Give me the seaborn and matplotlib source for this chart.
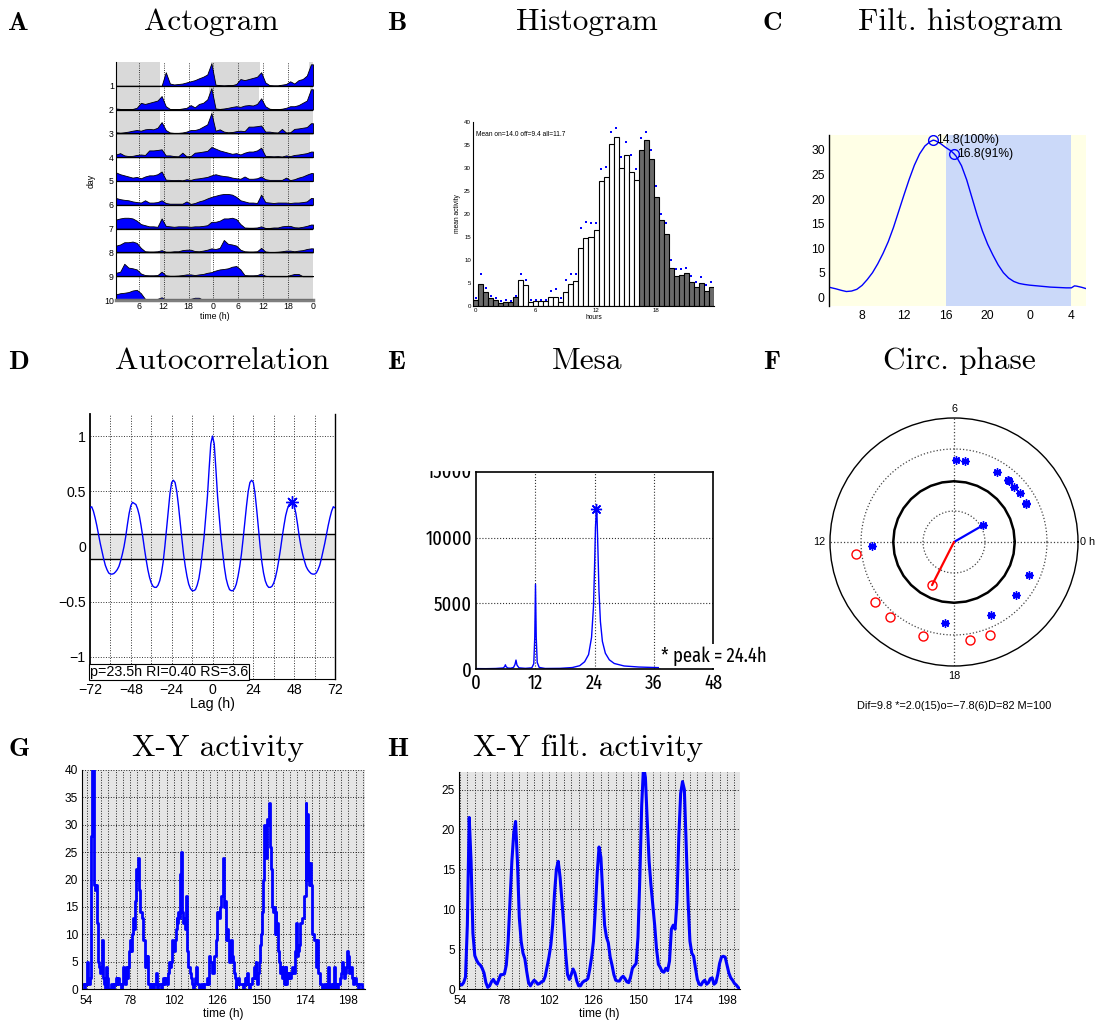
import os
import numpy as np
import matplotlib
matplotlib.use("Agg")
import matplotlib.pyplot as plt
import seaborn as sns
from matplotlib import font_manager
from matplotlib.font_manager import FontProperties
from matplotlib.ticker import MultipleLocator
from matplotlib.transforms import Bbox, TransformedBbox

# ------------------------------------------------------------------ A: actogram
# hourly activity (share of row height), one list per recording day
act_hourly = [
    [0, 0, 0, 0, 0, 0, 0, 0, 0, 0, 0, 0,
     0.60, 0.10, 0.06, 0.08, 0.10, 0.15, 0.20, 0.25, 0.33, 0.40, 0.50, 1.00],
    [0.05, 0.03, 0.02, 0.03, 0.03, 0.08, 0.30, 0.25, 0.30, 0.35, 0.40, 0.60,
     0.15, 0.03, 0.02, 0.02, 0.05, 0.08, 0.20, 0.10, 0.25, 0.30, 0.45, 0.95],
    [0.05, 0.03, 0.05, 0.08, 0.12, 0.15, 0.12, 0.18, 0.20, 0.18, 0.25, 0.50,
     0.15, 0.04, 0.02, 0.02, 0.04, 0.08, 0.15, 0.15, 0.20, 0.30, 0.40, 0.90],
    [0.12, 0.18, 0.08, 0.05, 0.06, 0.10, 0.12, 0.10, 0.30, 0.30, 0.32, 0.35,
     0.08, 0.08, 0.05, 0.04, 0.20, 0.04, 0.05, 0.20, 0.22, 0.25, 0.28, 0.45],
    [0.38, 0.30, 0.25, 0.20, 0.15, 0.18, 0.12, 0.20, 0.25, 0.25, 0.30, 0.42,
     0.06, 0.05, 0.04, 0.05, 0.03, 0.08, 0.05, 0.10, 0.12, 0.15, 0.18, 0.25],
    [0.30, 0.25, 0.22, 0.20, 0.15, 0.12, 0.10, 0.20, 0.10, 0.10, 0.12, 0.20,
     0.08, 0.05, 0.05, 0.05, 0.05, 0.15, 0.04, 0.08, 0.15, 0.20, 0.28, 0.35],
    [0.40, 0.45, 0.48, 0.48, 0.45, 0.35, 0.20, 0.15, 0.10, 0.10, 0.08, 0.45,
     0.12, 0.10, 0.08, 0.10, 0.10, 0.10, 0.08, 0.10, 0.10, 0.12, 0.15, 0.30],
    [0.30, 0.35, 0.45, 0.45, 0.48, 0.42, 0.20, 0.05, 0.04, 0.04, 0.05, 0.10,
     0.03, 0.03, 0.05, 0.05, 0.10, 0.12, 0.12, 0.06, 0.05, 0.08, 0.12, 0.18],
    [0.15, 0.20, 0.55, 0.38, 0.35, 0.30, 0.12, 0.05, 0.04, 0.04, 0.05, 0.20,
     0.04, 0.02, 0.02, 0.03, 0.05, 0.08, 0.08, 0.05, 0.08, 0.10, 0.15, 0.18],
    [0.25, 0.30, 0.32, 0.35, 0.42, 0.45, 0.30, 0.05, 0.04, 0.04, 0.05, 0.12,
     0.02, 0, 0, 0, 0, 0, 0.05, 0.10, 0.10, 0, 0, 0],
]
# dark phases (clock hours) for each day, day 11 has no recording
dark_periods = [
    [(0.0, 11.0), (23.3, 24.0)],
    [(0.0, 11.2), (23.0, 24.0)],
    [(0.0, 11.0), (23.3, 24.0)],
    [(0.0, 24.0)],
    [(11.2, 23.3)],
    [(11.2, 23.3)],
    [(11.2, 23.3)],
    [(11.2, 23.3)],
    [(11.2, 23.3)],
    [(11.2, 24.0)],
    [(0.0, 24.0)],
]

# ------------------------------------------------------------------ B: histogram
hist_bin_hours = [i * 0.5 for i in range(48)]
hist_mean = [1.3, 4.85, 3.0, 1.7, 1.25, 0.7, 0.95, 0.85, 1.9, 5.6, 4.5, 0.9,
             1.0, 1.0, 1.0, 2.0, 2.0, 0.9, 3.0, 4.8, 5.35, 12.5, 14.75, 15.0,
             16.5, 27.1, 28.0, 35.2, 36.8, 30.1, 32.9, 29.2, 27.3, 33.9, 36.1, 32.0,
             23.6, 18.7, 15.6, 8.2, 6.6, 6.7, 7.1, 5.3, 4.05, 4.9, 3.25, 4.1]
hist_upper = [1.8, 6.9, 3.9, 2.2, 1.8, 1.1, 1.4, 1.1, 2.1, 6.9, 5.6, 1.4,
              1.4, 1.4, 1.3, 3.3, 3.8, 1.8, 5.6, 6.9, 6.9, 17.0, 18.2, 18.0,
              18.0, 29.7, 30.2, 37.9, 38.7, 32.4, 35.7, 32.9, 29.7, 36.5, 37.9, 33.9,
              26.0, 20.0, 18.0, 10.0, 8.0, 8.0, 8.3, 6.5, 5.2, 6.3, 4.6, 5.2]
hist_phase = ["dark"] * 9 + ["light"] * 24 + ["dark"] * 15

# ------------------------------------------------------------------ C: filtered histogram
filt_hours = [4.84, 5.0, 5.5, 6.0, 6.5, 7.0, 7.5, 8.0, 8.5, 9.0,
              9.5, 10.0, 10.5, 11.0, 11.5, 12.0, 12.5, 13.0, 13.5, 14.0,
              14.5, 14.8, 15.0, 15.5, 16.0, 16.5, 16.8, 17.0, 17.5, 18.0,
              18.5, 19.0, 19.5, 20.0, 20.5, 21.0, 21.5, 22.0, 22.5, 23.0,
              23.5, 24.0, 24.5, 25.0, 25.5, 26.0, 26.5, 27.0, 27.5, 28.0,
              28.3, 28.5, 29.0, 29.4]
filt_values = [2.05, 1.95, 1.7, 1.4, 1.15, 1.25, 1.6, 2.4, 3.6, 5.0,
               6.8, 8.9, 11.3, 14.2, 17.5, 20.8, 24.0, 26.9, 29.2, 30.8,
               31.7, 32.0, 31.9, 31.3, 30.5, 29.8, 29.2, 28.7, 26.8, 23.9,
               20.3, 16.7, 13.5, 10.8, 8.6, 6.6, 5.0, 3.9, 3.2, 2.8,
               2.6, 2.45, 2.35, 2.25, 2.15, 2.05, 2.0, 1.95, 1.9, 1.9,
               2.3, 2.25, 2.0, 1.75]
filt_peak_hours = [14.8, 16.8]
dark_onset, dark_offset = 16.0, 28.0   # 28 h = 04:00 next day

# ------------------------------------------------------------------ D: autocorrelation
acf_lag_pos = list(range(73))
acf_pos = [1.00, 0.93, 0.70, 0.45, 0.26, 0.08, -0.06, -0.19, -0.29, -0.35,
           -0.39, -0.40, -0.40, -0.38, -0.34, -0.27, -0.18, -0.07, 0.07, 0.22,
           0.37, 0.50, 0.58, 0.60, 0.58, 0.48, 0.33, 0.16, 0.00, -0.14,
           -0.24, -0.31, -0.35, -0.37, -0.37, -0.36, -0.33, -0.28, -0.21, -0.12,
           -0.02, 0.09, 0.19, 0.28, 0.34, 0.38, 0.39, 0.40, 0.37, 0.30,
           0.20, 0.09, 0.00, -0.07, -0.13, -0.18, -0.21, -0.23, -0.245, -0.25,
           -0.25, -0.24, -0.21, -0.17, -0.11, -0.04, 0.03, 0.11, 0.19, 0.26,
           0.32, 0.36, 0.35]
acf_period, acf_ri, acf_rs = 23.5, 0.40, 3.6
acf_conf = 0.11

# ------------------------------------------------------------------ E: MESA spectrum
mesa_period = [0.0, 2.0, 4.0, 5.5, 5.8, 5.95, 6.1, 6.4, 7.0, 7.6,
               7.9, 8.1, 8.3, 8.7, 10.0, 11.3, 11.7, 11.9, 12.05, 12.2,
               12.4, 12.8, 14.0, 17.0, 19.5, 21.0, 22.0, 22.8, 23.4, 23.8,
               24.0, 24.2, 24.4, 24.5, 24.7, 24.9, 25.2, 25.6, 26.2, 27.0,
               28.0, 30.0, 33.0, 37.3]
mesa_power = [30, 25, 40, 80, 180, 320, 180, 80, 60, 120,
              350, 680, 300, 90, 50, 90, 400, 2400, 6450, 2400,
              500, 120, 40, 50, 110, 250, 550, 1100, 2400, 4800,
              7600, 10800, 12200, 11800, 9000, 6000, 3600, 2100, 1200, 700,
              420, 230, 150, 100]

# ------------------------------------------------------------------ F: circular phase
onset_phase_h = [5.9, 5.5, 3.9, 3.27, 3.2, 3.25, 2.84, 2.43, 1.92, 1.85,
                 22.4, 21.3, 19.8, 17.6, 12.2]
offset_phase_h = [12.47, 14.5, 15.3, 16.77, 18.6, 19.4]
onset_mean_h, onset_mean_len = 2.0, 0.27
offset_mean_h, offset_mean_len = -7.8, 0.39
onset_radius, offset_radius, sig_radius = 0.66, 0.80, 0.49

# ------------------------------------------------------------------ G: raw activity (30 min)
raw_start, raw_step = 52.0, 0.5
raw_counts = [
    1, 0, 1, 1, 2, 5, 1, 1, 2, 28, 41, 40, 19, 18, 19, 12, 12, 5, 4, 3, 4, 9, 2, 1,
    0, 4, 3, 2, 0, 0, 0, 1, 1, 0, 1, 1, 2, 1, 2, 2, 1, 1, 0, 1, 4, 3, 1, 4,
    3, 2, 4, 7, 9, 7, 10, 13, 11, 16, 22, 21, 20, 24, 18, 14, 14, 13, 9, 9, 4, 6, 5, 6,
    1, 1, 0, 1, 1, 0, 1, 1, 3, 3, 0, 1, 1, 1, 0, 1, 2, 1, 2, 2, 2, 1, 3, 5,
    4, 5, 9, 8, 7, 9, 11, 13, 12, 14, 13, 21, 25, 14, 12, 13, 11, 17, 12, 7, 4, 4, 3, 2,
    1, 0, 1, 2, 4, 3, 1, 1, 0, 0, 1, 1, 0, 1, 1, 1, 1, 2, 1, 6, 5, 5, 3, 3,
    6, 6, 9, 9, 14, 14, 13, 15, 17, 17, 24, 15, 16, 15, 9, 11, 9, 5, 5, 9, 6, 5, 3, 2,
    0, 1, 1, 2, 1, 1, 1, 1, 0, 1, 2, 1, 2, 3, 1, 0, 1, 1, 2, 2, 4, 2, 5, 3,
    1, 3, 5, 8, 10, 14, 20, 30, 26, 29, 24, 31, 30, 34, 26, 22, 15, 14, 15, 10, 14, 10, 12, 7,
    5, 3, 4, 2, 4, 1, 2, 4, 1, 3, 2, 3, 2, 3, 4, 3, 3, 7, 12, 12, 6, 7, 8, 12,
    12, 13, 13, 17, 17, 34, 20, 32, 23, 19, 23, 19, 10, 10, 9, 9, 5, 4, 9, 3, 3, 1, 1, 0,
    0, 1, 1, 1, 0, 1, 4, 0, 0, 1, 0, 1, 4, 0, 0, 1, 0, 1, 1, 2, 3, 5, 4, 2,
    3, 4, 4, 7, 6, 3, 4, 4, 2, 1, 2, 2, 1, 1, 1, 0, 1, 1, 1, 0, 0,
]

# ------------------------------------------------------------------ H: filtered activity (hourly)
filt_start = 53
filt_activity = [
    0.9, 0.6, 0.5, 0.8, 1.5, 8.0, 21.5, 16.0, 7.0, 4.2, 3.6, 3.2, 3.0, 2.6, 2.0, 0.8, 0.2,
    0.4, 0.9, 1.2, 0.8, 0.6, 1.2, 1.8, 1.8, 1.9, 3.0, 6.0, 11.0, 16.0, 19.5, 21.0, 16.0,
    9.0, 6.0, 4.5, 3.8, 2.2, 0.8, 0.4, 0.8, 1.1, 0.9, 0.6, 0.7, 0.9, 1.0, 1.6, 2.8, 4.0,
    5.5, 8.0, 12.0, 15.0, 16.0, 14.0, 11.0, 8.0, 4.5, 1.8, 1.2, 1.8, 2.5, 2.0, 1.0, 0.4,
    0.4, 0.8, 1.0, 1.1, 1.3, 2.5, 4.0, 6.0, 10.0, 14.5, 17.8, 16.5, 12.0, 8.0, 6.5, 5.8,
    4.0, 3.0, 1.8, 1.1, 1.0, 1.0, 1.4, 1.6, 1.3, 0.9, 0.8, 1.5, 2.6, 2.9, 3.2, 6.5, 14.0,
    23.0, 28.0, 26.5, 21.0, 16.0, 13.0, 10.5, 8.0, 5.0, 3.1, 2.7, 2.2, 2.1, 2.6, 2.3, 3.5,
    7.5, 8.0, 7.5, 11.0, 19.0, 24.5, 26.0, 25.0, 18.0, 11.0, 6.0, 4.5, 4.1, 2.6, 1.2, 0.6,
    0.5, 0.9, 1.1, 0.6, 0.8, 1.3, 1.4, 0.6, 0.8, 1.8, 3.2, 4.0, 4.1, 4.0, 3.0, 2.0, 1.4,
    1.1, 0.7, 0.5, 0.2, 0.0,
]

# ============================================================== styling
sns.set_theme(style="white")
plt.rcParams.update({
    "font.family": ["Liberation Sans", "DejaVu Sans"],
    "axes.edgecolor": "black",
    "axes.linewidth": 0.8,
    "axes.labelcolor": "black",
    "text.color": "black",
    "xtick.color": "black",
    "ytick.color": "black",
    "xtick.direction": "in",
    "ytick.direction": "in",
    "axes.unicode_minus": True,
})
BLUE = "#0000ff"


def condensed_font(size):
    """A narrow sans face for the spectrum labels, if one is installed."""
    wanted = ("narrow", "condensed")
    found = []
    for f in font_manager.fontManager.ttflist:
        base = os.path.basename(f.fname).lower()
        label = (f.name + " " + base).lower()
        narrow = any(w in label for w in wanted) or str(f.stretch) in (
            "condensed", "semi-condensed", "extra-condensed", "ultra-condensed")
        if not narrow or "[" in base:
            continue
        if f.style != "normal" or f.weight not in (400, "normal", "regular"):
            continue
        if any(w in label for w in ("mono", "serif", "bold", "italic", "light", "semibold",
                                     "medium", "black", "thin", "cjk")):
            continue
        rank = 0 if "extra" in label else (1 if "condensed" in label else 2)
        found.append((rank, f.fname))
    if found:
        found.sort()
        return FontProperties(fname=found[0][1], size=size), True
    return FontProperties(family="Liberation Sans", size=size * 0.82), False


W, H = 1102, 1023
fig = plt.figure(figsize=(W / 100, H / 100), dpi=100)


def add_box(left, top, right, bottom, **kw):
    return fig.add_axes([left / W, 1 - bottom / H, (right - left) / W, (bottom - top) / H], **kw)


def minus(v):
    return f"{v:g}".replace("-", "\u2212")


# panel letters and titles
headings = [
    ("A", "Actogram", 8, 211, 30), ("B", "Histogram", 387, 587, 30),
    ("C", "Filt. histogram", 763, 960, 30),
    ("D", "Autocorrelation", 8, 222, 369), ("E", "Mesa", 387, 587, 369),
    ("F", "Circ. phase", 763, 959, 369),
    ("G", "X-Y activity", 8, 218, 756), ("H", "X-Y filt. activity", 387, 588, 756),
]
for letter, title, lx, tx, base in headings:
    fig.text(lx / W, 1 - base / H, letter, family="cmb10", fontsize=19.5, va="baseline", ha="left")
    fig.text(tx / W, 1 - base / H, title, family="cmr10", fontsize=22.5, va="baseline", ha="center")

# ============================================================== A
axA = add_box(116, 62, 313, 300)
hrs = np.arange(24)
n_rows = len(act_hourly)
for row in range(n_rows):
    top, base = row, row + 1
    for s, e in dark_periods[row]:
        axA.fill_between([s, e], top, base, color="#d9d9d9", linewidth=0, zorder=0)
    for s, e in dark_periods[row + 1]:
        axA.fill_between([s + 24, e + 24], top, base, color="#d9d9d9", linewidth=0, zorder=0)
    vals = list(act_hourly[row])
    xs = list(hrs + 0.5)
    if row + 1 < n_rows:
        vals += list(act_hourly[row + 1])
        xs += list(hrs + 24.5)
    xs.append(xs[-1] + 0.5)
    vals.append(vals[-1])
    xs, vals = np.array(xs), np.array(vals)
    axA.fill_between(xs, base, base - 0.95 * vals, facecolor=BLUE, edgecolor="black",
                     linewidth=0.6, zorder=2)
    axA.hlines(base, 0.5, 48, color="black", linewidth=0.9, zorder=3)
for v in range(6, 48, 6):
    axA.axvline(v, color="black", linestyle=":", linewidth=0.6, zorder=1)
axA.set_xlim(0.5, 48)
axA.set_ylim(n_rows, 0)
axA.set_xticks(range(6, 49, 6), ["6", "12", "18", "0", "6", "12", "18", "0"])
axA.set_yticks(range(1, n_rows + 1), [str(i) for i in range(1, n_rows + 1)])
axA.tick_params(axis="both", labelsize=6.3, pad=1.5, length=0)
for sp in ("top", "right"):
    axA.spines[sp].set_visible(False)
axA.spines["bottom"].set_color("#7f7f7f")
axA.spines["bottom"].set_linewidth(2.5)
axA.set_xlabel("time (h)", fontsize=6.3, labelpad=1)
axA.set_ylabel("day", fontsize=6.3, labelpad=6)

# ============================================================== B
axB = add_box(473, 122, 714, 306)
sns.barplot(x=hist_bin_hours, y=hist_mean, hue=hist_phase,
            palette={"light": "white", "dark": "#6a6a6a"}, native_scale=True,
            width=1.0, dodge=False, saturation=1, errorbar=None, legend=False,
            edgecolor="black", linewidth=0.8, orient="x", ax=axB)
sns.scatterplot(x=hist_bin_hours, y=hist_upper, color=BLUE, s=2.5, marker="s",
                linewidth=0, ax=axB, zorder=5)
axB.set_xlim(-0.25, 23.75)
axB.set_ylim(0, 40)
axB.set_xticks([0, 6, 12, 18], ["0", "6", "12", "18"])
axB.set_yticks(range(0, 41, 5))
axB.tick_params(axis="both", labelsize=4.4, pad=1.5, length=2, width=0.5)
for sp in ("top", "right"):
    axB.spines[sp].set_visible(False)
axB.set_xlabel("hours", fontsize=4.8, labelpad=1)
axB.set_ylabel("mean activity", fontsize=4.8, labelpad=2)
axB.text(0, 37.2, "Mean on=14.0 off=9.4 all=11.7", fontsize=4.8, va="center", ha="left")

# ============================================================== C
axC = add_box(829, 135, 1086, 306)
x_lo, x_hi = filt_hours[0], filt_hours[-1]
axC.axvspan(x_lo, dark_onset, color="#ffffe6", linewidth=0, zorder=0)
axC.axvspan(dark_onset, dark_offset, color="#cbd9f9", linewidth=0, zorder=0)
axC.axvspan(dark_offset, x_hi, color="#ffffe6", linewidth=0, zorder=0)
sns.lineplot(x=filt_hours, y=filt_values, color=BLUE, linewidth=1.0, ax=axC)
peak_max = max(filt_values)
for ph in filt_peak_hours:
    pv = filt_values[filt_hours.index(ph)]
    axC.plot([ph], [pv], marker="o", markersize=7, markerfacecolor="none",
             markeredgecolor=BLUE, markeredgewidth=1.0, linestyle="")
    axC.text(ph + 0.3, pv, f"{ph:.1f}({100 * pv / peak_max:.0f}%)", fontsize=8.7,
             va="center", ha="left")
axC.set_xlim(x_lo, x_hi)
axC.set_ylim(-1.8, 33.05)
axC.set_xticks([8, 12, 16, 20, 24, 28], ["8", "12", "16", "20", "0", "4"])
axC.set_yticks(range(0, 31, 5))
axC.tick_params(axis="both", labelsize=8.7, length=0, pad=3)
for sp in ("top", "right", "bottom"):
    axC.spines[sp].set_visible(False)
axC.spines["left"].set_linewidth(1.0)

# ============================================================== D
axD = add_box(90, 414, 335, 679)
lags = [-l for l in acf_lag_pos[:0:-1]] + acf_lag_pos
acf = acf_pos[:0:-1] + acf_pos
axD.axhspan(-acf_conf, acf_conf, color="#e5e5e5", linewidth=0, zorder=0)
axD.axhline(acf_conf, color="black", linewidth=1.0, zorder=1)
axD.axhline(-acf_conf, color="black", linewidth=1.0, zorder=1)
for v in range(-60, 61, 12):
    axD.axvline(v, color="#333333", linestyle=":", linewidth=0.7, zorder=0.5)
for v in (-1, -0.5, 0.5, 1):
    axD.axhline(v, color="#333333", linestyle=":", linewidth=0.7, zorder=0.5)
sns.lineplot(x=lags, y=acf, color=BLUE, linewidth=1.0, ax=axD, zorder=3)
second_peak_lag = 47
axD.plot([second_peak_lag], [acf_pos[second_peak_lag]], marker=(8, 2, 0), markersize=9,
         color=BLUE, markeredgewidth=1.0, linestyle="", zorder=4)
axD.set_xlim(-72, 72)
axD.set_ylim(-1.2, 1.2)
axD.set_xticks(range(-72, 73, 24), [minus(v) for v in range(-72, 73, 24)])
axD.set_yticks([-1, -0.5, 0, 0.5, 1], [minus(v) for v in (-1, -0.5, 0, 0.5, 1)])
axD.tick_params(axis="both", labelsize=10.2, length=0, pad=3)
axD.spines["top"].set_visible(False)
axD.spines["left"].set_linewidth(1.3)
axD.spines["right"].set_linewidth(1.0)
axD.set_xlabel("Lag (h)", fontsize=10.2, labelpad=0)
axD.text(-72, -1.2, f"p={acf_period}h RI={acf_ri:.2f} RS={acf_rs}", fontsize=10.3,
         ha="left", va="bottom", zorder=6,
         bbox=dict(facecolor="white", edgecolor="black", linewidth=0.8, pad=0.8))

# ============================================================== E
fpE, is_narrow = condensed_font(14.5)
axE = add_box(476, 472, 713, 669)
for v in (12, 24, 36):
    axE.axvline(v, color="#333333", linestyle=":", linewidth=0.8, zorder=0.5)
for v in (5000, 10000):
    axE.axhline(v, color="#333333", linestyle=":", linewidth=0.8, zorder=0.5)
sns.lineplot(x=mesa_period, y=mesa_power, color=BLUE, linewidth=1.0, ax=axE)
ipk = int(np.argmax(mesa_power))
axE.plot([mesa_period[ipk]], [mesa_power[ipk]], marker=(8, 2, 0), markersize=8,
         color=BLUE, markeredgewidth=1.0, linestyle="")
axE.set_xlim(0, 48)
axE.set_ylim(0, 15000)
axE.tick_params(axis="both", length=0, pad=3)
axE.set_xticks([0, 12, 24, 36, 48], ["0", "12", "24", "36", "48"], fontproperties=fpE)
axE.set_yticks([0, 5000, 10000], ["0", "5000", "10000"], fontproperties=fpE)
top_label = axE.text(-0.016, 1.0, "15000", transform=axE.transAxes, ha="right", va="center",
                     fontproperties=fpE)
top_label.set_clip_box(TransformedBbox(Bbox.from_extents(0, 0, 1, 1 - 471 / H), fig.transFigure))
top_label.set_clip_on(True)
for sp in axE.spines.values():
    sp.set_linewidth(1.2)
axE.text(mesa_period[-1] + 0.2, 250, f"* peak = {mesa_period[ipk]:.1f}h",
         fontproperties=fpE, ha="left", va="bottom", zorder=6, clip_on=False,
         bbox=dict(facecolor="white", edgecolor="none", pad=1.5))

# ============================================================== F
axF = add_box(830, 418, 1078, 666, projection="polar")
axF.set_theta_zero_location("E")
axF.set_theta_direction(1)
axF.set_ylim(0, 1)
axF.set_xticks([])
axF.set_yticks([])
axF.grid(False)
axF.spines["polar"].set_linewidth(1.0)
ring = np.linspace(0, 2 * np.pi, 361)
for r in (0.25, 0.75):
    axF.plot(ring, np.full_like(ring, r), color="#444444", linestyle=":", linewidth=0.9)
for a in (0, 0.5 * np.pi, np.pi, 1.5 * np.pi):
    axF.plot([a, a], [0, 1], color="#444444", linestyle=":", linewidth=0.9)
poly = np.linspace(0, 2 * np.pi, 33)
axF.plot(poly, np.full_like(poly, sig_radius), color="black", linewidth=1.8)


def h2rad(h):
    return np.asarray(h, dtype=float) / 24.0 * 2 * np.pi


axF.plot(h2rad(onset_phase_h), np.full(len(onset_phase_h), onset_radius), marker=(8, 2, 0),
         markersize=6, color=BLUE, markeredgewidth=1.0, linestyle="")
axF.plot(h2rad(offset_phase_h), np.full(len(offset_phase_h), offset_radius), marker="o",
         markersize=6.5, markerfacecolor="none", markeredgecolor="red",
         markeredgewidth=1.0, linestyle="")
axF.plot([0, h2rad(onset_mean_h)], [0, onset_mean_len], color=BLUE, linewidth=1.6)
axF.plot([h2rad(onset_mean_h)], [onset_mean_len], marker=(8, 2, 0), markersize=6,
         color=BLUE, markeredgewidth=1.0, linestyle="")
axF.plot([0, h2rad(offset_mean_h)], [0, offset_mean_len], color="red", linewidth=1.6)
axF.plot([h2rad(offset_mean_h)], [offset_mean_len], marker="o", markersize=6.5,
         markerfacecolor="none", markeredgecolor="red", markeredgewidth=1.0, linestyle="")
axF.text(0, 1.02, "0 h", fontsize=7.8, ha="left", va="center")
axF.text(0.5 * np.pi, 1.03, "6", fontsize=7.8, ha="center", va="bottom")
axF.text(np.pi, 1.04, "12", fontsize=7.8, ha="right", va="center")
axF.text(1.5 * np.pi, 1.04, "18", fontsize=7.8, ha="center", va="top")
dif = onset_mean_h - offset_mean_h
fig.text(954 / W, 1 - 706 / H,
         f"Dif={dif:.1f} *={onset_mean_h:.1f}({len(onset_phase_h)})"
         f"o={minus(offset_mean_h)}({len(offset_phase_h)})D=82 M=100",
         fontsize=7.9, ha="center", va="center")


# ============================================================== G & H
def style_xy(ax, ymax, xlo, xhi):
    ax.set_facecolor("#e5e5e5")
    ax.set_xlim(xlo, xhi)
    ax.set_ylim(0, ymax)
    ax.xaxis.set_major_locator(MultipleLocator(24, offset=6))
    ax.xaxis.set_minor_locator(MultipleLocator(4, offset=2))
    ax.yaxis.set_major_locator(MultipleLocator(5))
    ax.yaxis.set_minor_locator(MultipleLocator(1))
    ax.grid(which="both", axis="x", color="#222222", linestyle=":", linewidth=0.7)
    ax.grid(which="major", axis="y", color="#222222", linestyle=":", linewidth=0.7)
    ax.set_axisbelow(True)
    ax.tick_params(axis="both", which="major", labelsize=8.6, length=3, width=0.6)
    ax.tick_params(axis="x", which="major", pad=4)
    ax.tick_params(axis="y", which="major", pad=3)
    ax.tick_params(axis="both", which="minor", length=1.8, width=0.5)
    for sp in ("top", "right"):
        ax.spines[sp].set_visible(False)
    ax.set_xlabel("time (h)", fontsize=8.6, labelpad=1)


axG = add_box(82, 770, 365, 989)
raw_time = [raw_start + raw_step * i for i in range(len(raw_counts))]
sns.lineplot(x=raw_time, y=raw_counts, color=BLUE, linewidth=2.0,
             drawstyle="steps-post", ax=axG)
style_xy(axG, 40, 51.5, 207.2)

axH = add_box(459, 772, 740, 989)
filt_time = [filt_start + i for i in range(len(filt_activity))]
sns.lineplot(x=filt_time, y=filt_activity, color=BLUE, linewidth=2.2, ax=axH)
style_xy(axH, 27.2, 53.5, 205)

fig.savefig("out.png", dpi=100)
